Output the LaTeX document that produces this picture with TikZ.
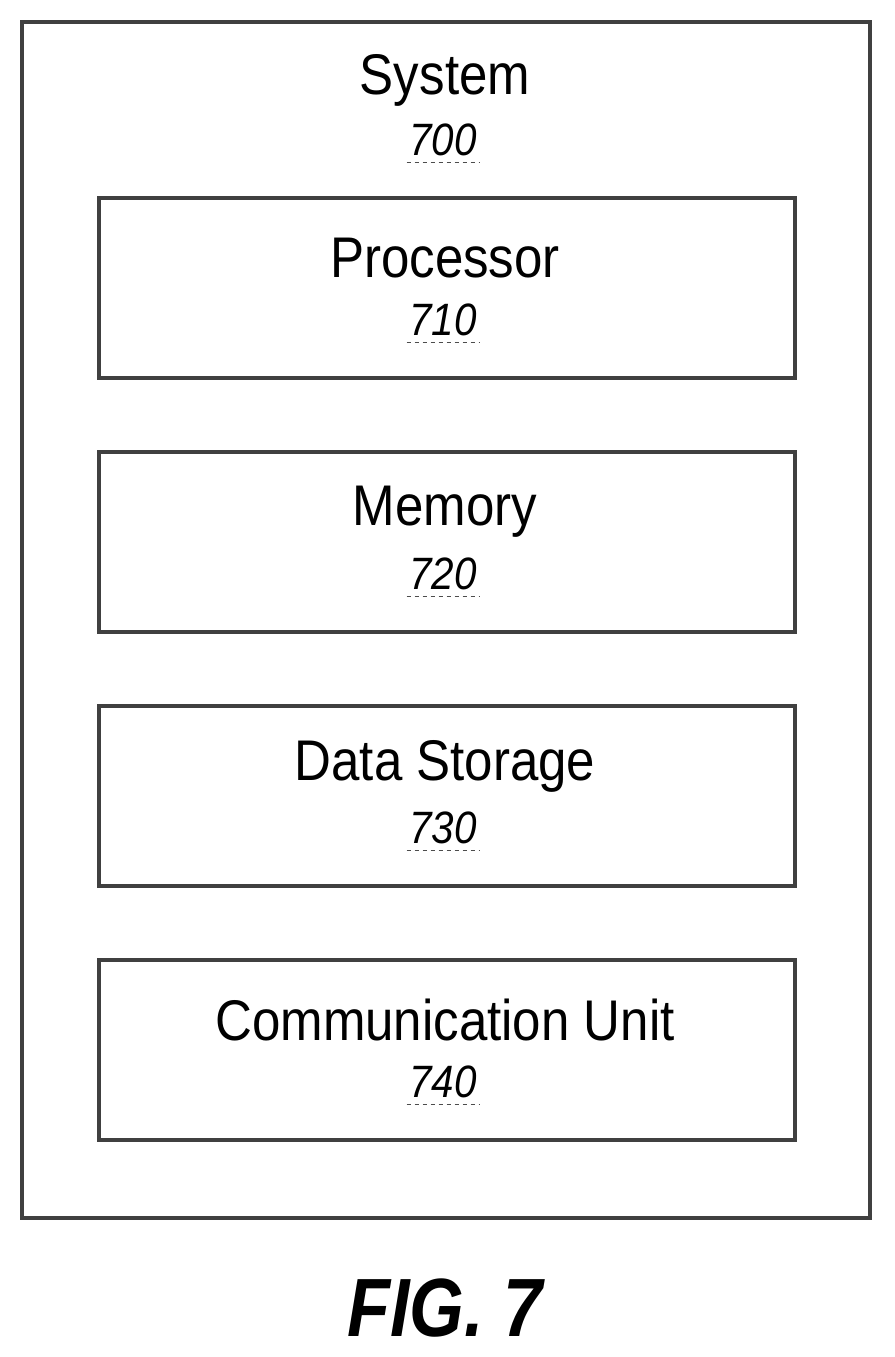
\documentclass[tikz,border=0pt]{standalone}
\usepackage{fontspec}
\setmainfont{Liberation Sans}
\newfontfamily\narrowfont[FakeStretch=0.89]{Liberation Sans}
\newfontfamily\figfont[FakeStretch=0.85]{Liberation Sans}
\usetikzlibrary{calc}
\tikzset{
  unitbox/.style={draw=black!75,line width=3.5pt},
  unitname/.style={font=\narrowfont\fontsize{43}{48}\selectfont},
  unitnum/.style={font=\narrowfont\fontsize{34}{40}\selectfont\itshape}
}
\newcommand{\unit}[4]{% name, number, top y, node name
  \draw[unitbox] (99,#3) rectangle (795,#3+180);
  \node[unitname] (#4) at (445,#3+60) {#1};
  \node[unitnum] (#4num) at (443,#3+122) {#2};
  \draw[black!70,dashed,line width=0.8pt] ($(#4num.south west)+(2,2)$) -- ($(#4num.south east)+(-2,2)$);
}
\begin{document}
\begin{tikzpicture}[x=0.75pt,y=-0.75pt]
  \useasboundingbox (0,0) rectangle (894,1357);
  \draw[unitbox] (22,22) rectangle (870,1218);
  \node[unitname] (system) at (445,80) {System};
  \node[unitnum] (systemnum) at (443,140) {700};
  \draw[black!70,dashed,line width=0.8pt] ($(systemnum.south west)+(2,2)$) -- ($(systemnum.south east)+(-2,2)$);
  \unit{Processor}{710}{198}{proc}
  \unit{Memory}{720}{452}{mem}
  \unit{Data Storage}{730}{706}{store}
  \unit{Communication Unit}{740}{960}{comm}
  \node[font=\figfont\fontsize{62}{70}\selectfont\bfseries\itshape] (fig) at (445,1308) {FIG. 7};
\end{tikzpicture}
\end{document}
